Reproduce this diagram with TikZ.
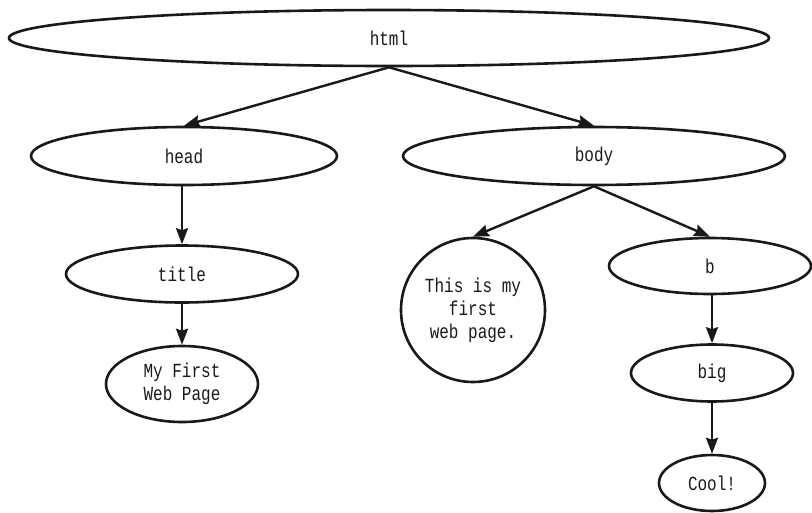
\documentclass[tikz,border=0pt]{standalone}
\usepackage{fontspec}
\newfontfamily\diagfont{Liberation Mono}[FakeStretch=0.8]
\usetikzlibrary{shapes.geometric,arrows.meta}
\begin{document}
\begin{tikzpicture}[x=1pt,y=-1pt,
  every node/.style={font=\diagfont\fontsize{20}{23}\selectfont, line width=2.6pt, draw=black!90, text=black!90, inner sep=0pt},
  oval/.style={ellipse},
  round/.style={circle, align=center},
  link/.style={line width=2.4pt, draw=black!90, -{Stealth[length=16pt,width=12pt,inset=2pt]}}
]
\useasboundingbox (0,0) rectangle (812,512);
\node[oval, minimum width=760pt, minimum height=56pt] (html) at (389,38) {html};
\node[oval, minimum width=306pt, minimum height=58pt] (head) at (184,156) {head};
\node[oval, minimum width=382pt, minimum height=58pt] (body) at (594,156) {body};
\node[oval, minimum width=232pt, minimum height=57pt] (title) at (182,274) {title};
\node[oval, align=center, minimum width=152pt, minimum height=76pt] (mfwp) at (182,384) {My First\\Web Page};
\node[round, minimum size=144pt] (txt) at (473,310) {This is my\\first\\web page.};
\node[oval, minimum width=202pt, minimum height=56pt] (b) at (710,266) {b};
\node[oval, minimum width=162pt, minimum height=57pt] (big) at (712,373) {big};
\node[oval, minimum width=106pt, minimum height=56pt] (cool) at (712,483) {Cool!};
\draw[link] (html.south) -- (head.north);
\draw[link] (html.south) -- (body.north);
\draw[link] (head.south -| title.north) -- (title.north);
\draw[link] (title.south) -- (mfwp.north);
\draw[link] (body.south) -- (txt.north);
\draw[link] (body.south) -- (b.north);
\draw[link] (b.south -| big.north) -- (big.north);
\draw[link] (big.south) -- (cool.north);
\end{tikzpicture}
\end{document}
